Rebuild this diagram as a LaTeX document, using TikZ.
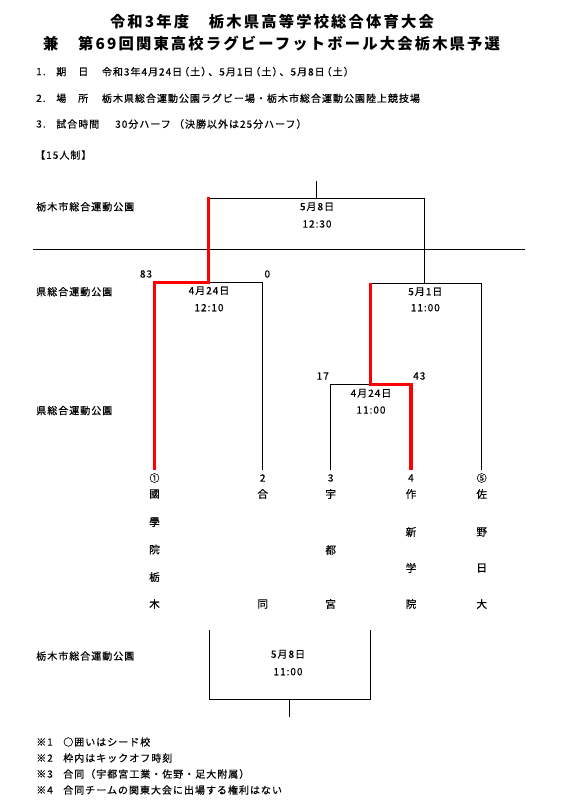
\documentclass[tikz,border=0pt]{standalone}
\usepackage{fontspec}
\newfontfamily\jp[LetterSpace=10,FakeBold=0.6]{Noto Sans CJK JP}
\newfontfamily\jpt[LetterSpace=14]{Noto Sans CJK JP}
\newcommand\dow[1]{\kern-2.2pt（#1）\kern-2.2pt}
\tikzset{
  t/.style={font=\jp\fontsize{7.5pt}{9pt}\selectfont, inner sep=0pt},
  tn/.style={font=\jp\fontsize{8pt}{9pt}\selectfont, inner sep=0pt},
  lab/.style={t, anchor=west},
  ttl/.style={font=\jpt\bfseries\fontsize{11.5pt}{14pt}\selectfont, inner sep=0pt},
  ln/.style={line width=0.65pt, black},
  win/.style={line width=2.6pt, red, line join=miter},
}
\begin{document}
\begin{tikzpicture}[x=0.75pt,y=-0.75pt]
\useasboundingbox (0,0) rectangle (565,804);
% title
\node[ttl] (title1) at (272,21.7) {令和3年度　栃木県高等学校総合体育大会};
\node[ttl] (title2) at (271.6,43.3) {兼　第69回関東高校ラグビーフットボール大会栃木県予選};
% items
\node[lab] (i1n) at (36,71.7) {1.};
\node[lab] (i1a) at (56,71.7) {期};
\node[lab] (i1b) at (78,71.7) {日};
\node[lab] (i1c) at (101.7,71.7) {令和3年4月24日\dow{土}、5月1日\dow{土}、5月8日\dow{土}};
\node[lab] (i2n) at (36,98.3) {2.};
\node[lab] (i2a) at (56,98.3) {場};
\node[lab] (i2b) at (78,98.3) {所};
\node[lab] (i2c) at (101.7,98.3) {栃木県総合運動公園ラグビー場・栃木市総合運動公園陸上競技場};
\node[lab] (i3n) at (36,124) {3.};
\node[lab] (i3a) at (56,124) {試合時間};
\node[lab] (i3c) at (115,124) {30分ハーフ （決勝以外は25分ハーフ）};
\node[lab] (i4) at (35,155) {【15人制】};
% venue labels
\node[lab] (v1) at (36,206.7) {栃木市総合運動公園};
\node[lab] (v2) at (36,291.7) {県総合運動公園};
\node[lab] (v3) at (36,410.5) {県総合運動公園};
\node[lab] (v4) at (36,656) {栃木市総合運動公園};
% separator
\coordinate (sepL) at (32.5,249.3);
\coordinate (sepR) at (524.5,249.3);
\draw[ln] (sepL) -- (sepR);
% team numbers
\node[t] (n1) at (154.5,478) {①};
\node[t] (n2) at (262.7,478) {2};
\node[t] (n3) at (330.7,478) {3};
\node[t] (n4) at (411,478) {4};
\node[t] (n5) at (481.7,478) {⑤};
% team names
\foreach \c/\y in {國/494,學/522,院/549.5,栃/577,木/604}{\node[tn] at (154.5,\y) {\c};}
\foreach \c/\y in {合/494,同/604}{\node[tn] at (262.7,\y) {\c};}
\foreach \c/\y in {宇/494,都/550,宮/604}{\node[tn] at (330.7,\y) {\c};}
\foreach \c/\y in {作/494,新/532,学/568,院/604}{\node[tn] at (411,\y) {\c};}
\foreach \c/\y in {佐/494,野/532,日/568,大/604}{\node[tn] at (481.7,\y) {\c};}
% junction coordinates
\coordinate (t1) at (154.5,469.5);
\coordinate (t2) at (262.7,469.5);
\coordinate (t3) at (330.7,469.5);
\coordinate (t4) at (411,469.5);
\coordinate (t5) at (481.7,469.5);
\coordinate (aL) at (154.5,282.7);
\coordinate (aM) at (208.3,282.7);
\coordinate (aR) at (262.7,282.7);
\coordinate (bL) at (330.7,384.3);
\coordinate (bM) at (370.7,384.3);
\coordinate (bR) at (411,384.3);
\coordinate (cL) at (370.7,283.3);
\coordinate (cM) at (424.3,283.3);
\coordinate (cR) at (481.7,283.3);
\coordinate (fL) at (208.3,198.3);
\coordinate (fM) at (316,198.3);
\coordinate (fR) at (424.3,198.3);
\coordinate (fTop) at (316,181);
% black lines
\draw[ln] (fTop) -- (fM);
\draw[ln] (fL) -- (fR) -- (cM);
\draw[ln] (aM) -- (aR) -- (t2);
\draw[ln] (t3) -- (bL) -- (bM);
\draw[ln] (cL) -- (cR) -- (t5);
% red winner lines
\draw[win] (t1) -- (aL) -- (aM) -- ([yshift=0.75pt]fL);
\draw[win] (cL) -- (bM) -- (bR) -- (t4);
% scores
\node[t] (s83) at (146,274) {83};
\node[t] (s0) at (267.3,274) {0};
\node[t] (s17) at (322.7,376) {17};
\node[t] (s43) at (419.3,376) {43};
% match info
\node[t] (m1d) at (317,206.7) {5月8日};
\node[t] (m1t) at (317,224) {12:30};
\node[t] (m2d) at (209,290.7) {4月24日};
\node[t] (m2t) at (209,307.7) {12:10};
\node[t] (m3d) at (425.3,291.7) {5月1日};
\node[t] (m3t) at (425.3,307.7) {11:00};
\node[t] (m4d) at (371,393.3) {4月24日};
\node[t] (m4t) at (371,410) {11:00};
% third place box
\coordinate (gL) at (209,630);
\coordinate (gLb) at (209,699);
\coordinate (gR) at (370,630);
\coordinate (gRb) at (370,699);
\coordinate (gM) at (289.3,699);
\coordinate (gBot) at (289.3,716.7);
\draw[ln] (gL) -- (gLb) -- (gRb) -- (gR);
\draw[ln] (gM) -- (gBot);
\node[t] (m5d) at (288,654.3) {5月8日};
\node[t] (m5t) at (288,671.7) {11:00};
% notes
\node[lab] (k1) at (36,742) {※1};
\node[lab] (k1t) at (63,742) {○囲いはシード校};
\node[lab] (k2) at (36,758) {※2};
\node[lab] (k2t) at (63,758) {枠内はキックオフ時刻};
\node[lab] (k3) at (36,774) {※3};
\node[lab] (k3t) at (63,774) {合同（宇都宮工業・佐野・足大附属）};
\node[lab] (k4) at (36,790) {※4};
\node[lab] (k4t) at (63,790) {合同チームの関東大会に出場する権利はない};
\end{tikzpicture}
\end{document}
